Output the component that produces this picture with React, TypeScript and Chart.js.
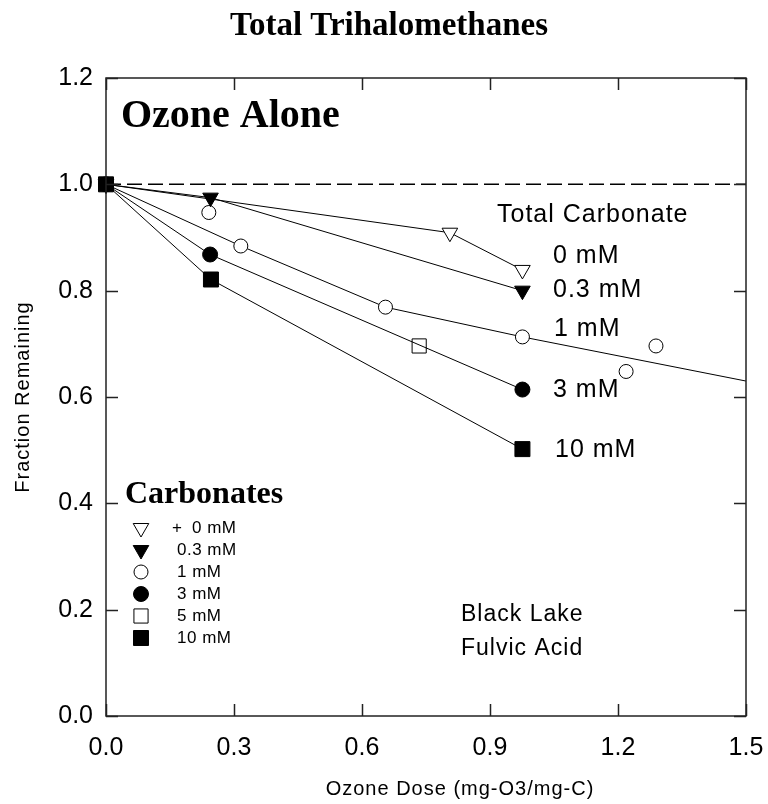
import React, { useEffect, useRef } from "react";
import { Chart, registerables } from "chart.js";

Chart.register(...registerables);

// Axis ticks
const xTicks = [0, 0.3, 0.6, 0.9, 1.2, 1.5];
const yTicks = [0, 0.2, 0.4, 0.6, 0.8, 1.0, 1.2];

// Fraction of total trihalomethanes remaining vs. ozone dose, by carbonate level
const dose0 = [0, 0.806, 0.976];
const frac0 = [1.0, 0.909, 0.839];

const dose03 = [0, 0.245, 0.976];
const frac03 = [1.0, 0.975, 0.8];

const dose1 = [0, 0.316, 0.655, 0.976, 1.5];
const frac1 = [1.0, 0.884, 0.769, 0.713, 0.63];
const dose1Extra = [0.241, 1.219, 1.289];
const frac1Extra = [0.947, 0.648, 0.696];

const dose3 = [0, 0.244, 0.976];
const frac3 = [1.0, 0.868, 0.614];

const dose5 = [0.734];
const frac5 = [0.696];

const dose10 = [0, 0.246, 0.976];
const frac10 = [1.0, 0.821, 0.502];

const baselineDose = [0, 1.5];
const baselineFrac = [1.0, 1.0];

// Text
const chartTitle = "Total Trihalomethanes";
const panelTitle = "Ozone Alone";
const seriesHeading = "Total Carbonate";
const seriesLabels = ["0 mM", "0.3 mM", "1 mM", "3 mM", "10 mM"];
const legendTitle = "Carbonates";
const legendLabels = ["0 mM", "0.3 mM", "1 mM", "3 mM", "5 mM", "10 mM"];
const sourceLines = ["Black Lake", "Fulvic Acid"];
const xTitle = "Ozone Dose (mg-O3/mg-C)";
const yTitle = "Fraction Remaining";

const SANS = "'Liberation Sans', Arial, sans-serif";
const SERIF = "'Liberation Serif', 'Times New Roman', serif";

type Marker = { style: "triangle" | "circle" | "rect"; rotation: number; filled: boolean; radius: number };

const mTriOpen: Marker = { style: "triangle", rotation: 180, filled: false, radius: 9 };
const mTriFilled: Marker = { style: "triangle", rotation: 180, filled: true, radius: 9 };
const mCircOpen: Marker = { style: "circle", rotation: 0, filled: false, radius: 7 };
const mCircFilled: Marker = { style: "circle", rotation: 0, filled: true, radius: 7.5 };
const mSqOpen: Marker = { style: "rect", rotation: 0, filled: false, radius: 10 };
const mSqFilled: Marker = { style: "rect", rotation: 0, filled: true, radius: 10.6 };

const legendMarkers = [mTriOpen, mTriFilled, mCircOpen, mCircFilled, mSqOpen, mSqFilled];

const pts = (xs: number[], ys: number[]) => xs.map((x, i) => ({ x, y: ys[i] }));

function series(xs: number[], ys: number[], m: Marker, showLine: boolean, radii?: number[]) {
  return {
    data: pts(xs, ys),
    showLine,
    borderColor: "#000",
    borderWidth: 1,
    pointStyle: m.style,
    pointRotation: m.rotation,
    pointRadius: radii ?? m.radius,
    pointBorderColor: "#000",
    pointBorderWidth: 1,
    pointBackgroundColor: m.filled ? "#000" : "#fff",
    clip: false as const,
    tension: 0,
  };
}

function drawMarker(ctx: CanvasRenderingContext2D, m: Marker, x: number, y: number) {
  ctx.save();
  ctx.lineWidth = 1;
  ctx.strokeStyle = "#000";
  ctx.fillStyle = m.filled ? "#000" : "#fff";
  ctx.beginPath();
  const r = m.radius;
  if (m.style === "circle") {
    ctx.arc(x, y, r, 0, Math.PI * 2);
  } else if (m.style === "rect") {
    const s = Math.SQRT1_2 * r;
    ctx.rect(x - s, y - s, 2 * s, 2 * s);
  } else {
    let a = (m.rotation * Math.PI) / 180;
    ctx.moveTo(x + Math.sin(a) * r, y - Math.cos(a) * r);
    a += (2 * Math.PI) / 3;
    ctx.lineTo(x + Math.sin(a) * r, y - Math.cos(a) * r);
    a += (2 * Math.PI) / 3;
    ctx.lineTo(x + Math.sin(a) * r, y - Math.cos(a) * r);
    ctx.closePath();
  }
  ctx.fill();
  ctx.stroke();
  ctx.restore();
}

const framePlugin = {
  id: "frame",
  afterDatasetsDraw(chart: any) {
    const { ctx, chartArea: a, scales } = chart;
    ctx.save();
    ctx.strokeStyle = "#222";
    ctx.lineWidth = 1.5;
    ctx.strokeRect(a.left, a.top, a.right - a.left, a.bottom - a.top);
    const tl = 12;
    ctx.beginPath();
    xTicks.forEach((v) => {
      const px = Math.round(scales.x.getPixelForValue(v)) + 0.5;
      ctx.moveTo(px, a.bottom);
      ctx.lineTo(px, a.bottom - tl);
      ctx.moveTo(px, a.top);
      ctx.lineTo(px, a.top + tl);
    });
    yTicks.forEach((v) => {
      const py = Math.round(scales.y.getPixelForValue(v)) + 0.5;
      ctx.moveTo(a.left, py);
      ctx.lineTo(a.left + tl, py);
      ctx.moveTo(a.right, py);
      ctx.lineTo(a.right - tl, py);
    });
    ctx.stroke();
    ctx.restore();
  },
};

const textPlugin = {
  id: "texts",
  afterDraw(chart: any) {
    const { ctx, chartArea: a } = chart;
    ctx.save();
    ctx.fillStyle = "#000";
    ctx.textBaseline = "alphabetic";

    // titles
    ctx.textAlign = "center";
    ctx.font = `bold 33px ${SERIF}`;
    ctx.fillText(chartTitle, 389, 35);

    ctx.textAlign = "left";
    ctx.font = `bold 40px ${SERIF}`;
    ctx.fillText(panelTitle, 121, 127);

    // series labels at the right
    (ctx as any).letterSpacing = "1px";
    ctx.font = `25px ${SANS}`;
    ctx.fillText(seriesHeading, 497, 222);
    const labelPos = [
      [553, 263],
      [553, 297],
      [554, 336],
      [553, 397],
      [555, 457],
    ];
    seriesLabels.forEach((t, i) => ctx.fillText(t, labelPos[i][0], labelPos[i][1]));

    // source
    ctx.font = `23px ${SANS}`;
    ctx.fillText(sourceLines[0], 461, 621);
    ctx.fillText(sourceLines[1], 461, 655);

    // legend
    (ctx as any).letterSpacing = "0px";
    ctx.font = `bold 32px ${SERIF}`;
    ctx.fillText(legendTitle, 125, 503);
    (ctx as any).letterSpacing = "0.5px";
    ctx.font = `17px ${SANS}`;
    legendLabels.forEach((t, i) => {
      const cy = 528 + i * 22;
      drawMarker(ctx, legendMarkers[i], 141, cy);
      if (i === 0) {
        ctx.fillText("+", 172, cy + 5);
        ctx.fillText(t, 192, cy + 5);
      } else {
        ctx.fillText(t, 177, cy + 5);
      }
    });

    // axis titles
    (ctx as any).letterSpacing = "1px";
    ctx.font = `20px ${SANS}`;
    ctx.textAlign = "center";
    ctx.fillText(xTitle, 460, 795);
    ctx.translate(29, (a.top + a.bottom) / 2);
    ctx.rotate(-Math.PI / 2);
    ctx.fillText(yTitle, 0, 0);
    ctx.restore();
  },
};

export default function App() {
  const ref = useRef<HTMLCanvasElement | null>(null);

  useEffect(() => {
    if (!ref.current) return;
    const chart = new Chart(ref.current, {
      type: "line",
      data: {
        datasets: [
          series(dose10, frac10, mSqFilled, true),
          series(dose03, frac03, mTriFilled, true),
          series(dose3, frac3, mCircFilled, true),
          series(dose5, frac5, mSqOpen, false),
          series(dose1, frac1, mCircOpen, true, [7, 7, 7, 7, 0]),
          series(dose1Extra, frac1Extra, mCircOpen, false),
          series(dose0, frac0, mTriOpen, true),
          {
            data: pts(baselineDose, baselineFrac),
            borderColor: "#000",
            borderWidth: 1.5,
            borderDash: [15, 6],
            pointRadius: 0,
            clip: false as const,
          },
        ] as any,
      },
      options: {
        responsive: false,
        animation: false,
        devicePixelRatio: 1,
        layout: { padding: { top: 78, right: 22, left: 0, bottom: 0 } },
        plugins: {
          legend: { display: false },
          tooltip: { enabled: false },
          title: { display: false },
        },
        scales: {
          x: {
            type: "linear",
            min: 0,
            max: 1.5,
            afterBuildTicks: (s: any) => {
              s.ticks = xTicks.map((v) => ({ value: v }));
            },
            afterFit: (s: any) => {
              s.height = 88;
              s.paddingLeft = 0;
              s.paddingRight = 0;
            },
            grid: { display: false, drawTicks: false },
            border: { display: false },
            ticks: {
              padding: 17,
              color: "#000",
              font: { family: SANS, size: 25 },
              autoSkip: false,
              maxRotation: 0,
              callback: (v: any) => Number(v).toFixed(1),
            },
          },
          y: {
            type: "linear",
            min: 0,
            max: 1.2,
            afterBuildTicks: (s: any) => {
              s.ticks = yTicks.map((v) => ({ value: v }));
            },
            afterFit: (s: any) => {
              s.width = 106;
              s.paddingTop = 0;
              s.paddingBottom = 0;
            },
            grid: { display: false, drawTicks: false },
            border: { display: false },
            ticks: {
              padding: 13,
              color: "#000",
              font: { family: SANS, size: 25 },
              autoSkip: false,
              callback: (v: any) => Number(v).toFixed(1),
            },
          },
        },
      } as any,
      plugins: [framePlugin, textPlugin],
    });
    return () => chart.destroy();
  }, []);

  return (
    <div style={{ position: "absolute", left: 0, top: 0, width: 768, height: 804, background: "#fff" }}>
      <canvas ref={ref} width={768} height={804} style={{ display: "block" }} />
    </div>
  );
}
